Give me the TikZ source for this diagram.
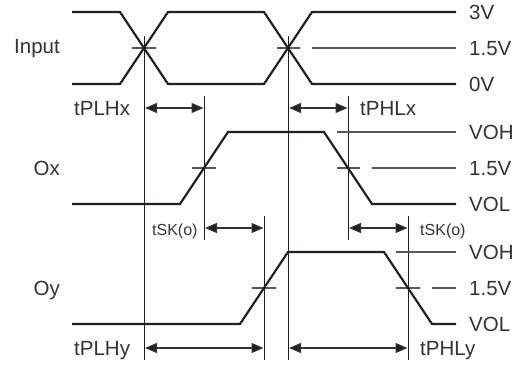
\documentclass[tikz,border=0pt]{standalone}
\usepackage{fontspec}
\setmainfont{Liberation Sans}
\usetikzlibrary{arrows.meta}
\definecolor{wavec}{HTML}{231F20}
\definecolor{inkc}{HTML}{333333}
\definecolor{greyc}{HTML}{555555}
\tikzset{
 wave/.style={draw=wavec,line width=2.2pt,line join=miter},
 guide/.style={draw=wavec,line width=1pt},
 level/.style={draw=greyc,line width=1.1pt},
 span/.style={draw=inkc,line width=1.2pt,{Triangle[length=12pt,width=10pt,fill=wavec]}-{Triangle[length=12pt,width=10pt,fill=wavec]},shorten <=1pt,shorten >=0.5pt},
 lab/.style={inner sep=0pt,text=inkc,font=\fontsize{20.5}{21}\selectfont,anchor=base west},
 labr/.style={inner sep=0pt,text=inkc,font=\fontsize{20.5}{21}\selectfont,anchor=base east},
 small/.style={inner sep=0pt,text=inkc,font=\fontsize{16}{17}\selectfont,anchor=base west},
}
\begin{document}
\begin{tikzpicture}[x=1pt,y=-1pt]
\useasboundingbox (0,0) rectangle (521,364);
% named anchor points
\coordinate (xa) at (144,36);  \coordinate (xaEnd) at (144,360);
\coordinate (xb) at (204,96);  \coordinate (xbEnd) at (204,240);
\coordinate (xc) at (288,36);  \coordinate (xcEnd) at (288,360);
\coordinate (xd) at (348,96);  \coordinate (xdEnd) at (348,240);
\coordinate (xe) at (264,216); \coordinate (xeEnd) at (264,360);
\coordinate (xf) at (408,216); \coordinate (xfEnd) at (408,360);
% guides
\draw[guide] (xa)--(xaEnd);
\draw[guide] (xb)--(xbEnd);
\draw[guide] (xc)--(xcEnd);
\draw[guide] (xd)--(xdEnd);
\draw[guide] (xe)--(xeEnd);
\draw[guide] (xf)--(xfEnd);
% level lines
\draw[level] (132,48)--(156,48);
\draw[level] (277,48)--(300,48);
\draw[level] (312,48)--(456,48);
\draw[level] (337,132)--(456,132);
\draw[level] (192,168)--(216,168);
\draw[level] (337,168)--(360,168);
\draw[level] (372,168)--(456,168);
\draw[level] (396,252)--(456,252);
\draw[level] (252,288)--(276,288);
\draw[level] (396,288)--(420,288);
\draw[level] (432,288)--(456,288);
% waveforms
\draw[wave] (72,12)--(120,12)--(168,84)--(264,84)--(312,12)--(456,12);
\draw[wave] (72,84)--(120,84)--(168,12)--(264,12)--(312,84)--(456,84);
\draw[wave] (72,204)--(180,204)--(228,132)--(324,132)--(372,204)--(456,204);
\draw[wave] (72,324)--(240,324)--(288,252)--(384,252)--(432,324)--(456,324);
% spans
\coordinate (a1) at (144,108); \coordinate (b1) at (204,108);
\coordinate (c1) at (288,108); \coordinate (d1) at (348,108);
\coordinate (b2) at (204,228); \coordinate (e2) at (264,228);
\coordinate (d2) at (348,228); \coordinate (f2) at (408,228);
\coordinate (a3) at (144,348); \coordinate (e3) at (264,348);
\coordinate (c3) at (288,348); \coordinate (f3) at (408,348);
\draw[span] (a1)--(b1);
\draw[span] (c1)--(d1);
\draw[span] (b2)--(e2);
\draw[span] (d2)--(f2);
\draw[span] (a3)--(e3);
\draw[span] (c3)--(f3);
% labels
\node[labr] (tInput) at (60,53) {Input};
\node[labr] (tOx) at (60,175) {Ox};
\node[labr] (tOy) at (60,295) {Oy};
\node[lab] (t3v) at (469,19) {3V};
\node[lab] (t15a) at (469,55) {1.5V};
\node[lab] (t0v) at (469,91) {0V};
\node[lab] (tvoha) at (469,139) {VOH};
\node[lab] (t15b) at (469,175) {1.5V};
\node[lab] (tvola) at (469,211) {VOL};
\node[lab] (tvohb) at (469,259) {VOH};
\node[lab] (t15c) at (469,295) {1.5V};
\node[lab] (tvolb) at (469,331) {VOL};
\node[lab] (tplhx) at (74,115) {tPLHx};
\node[lab] (tphlx) at (360,115) {tPHLx};
\node[lab] (tplhy) at (74,355) {tPLHy};
\node[lab] (tphly) at (420,355) {tPHLy};
\node[small] (tska) at (152,235) {tSK(o)};
\node[small] (tskb) at (420,235) {tSK(o)};
\end{tikzpicture}
\end{document}
